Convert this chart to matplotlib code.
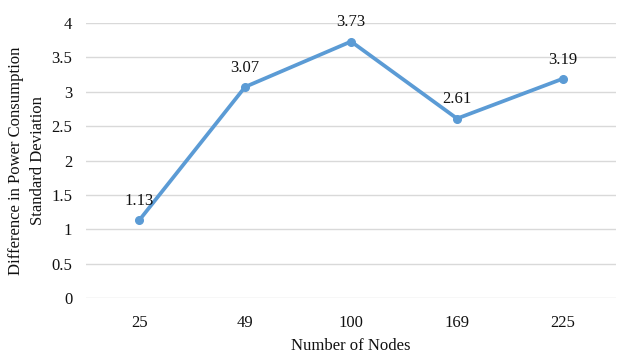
import matplotlib
matplotlib.use("Agg")
import matplotlib.pyplot as plt

# data
nodes = ["25", "49", "100", "169", "225"]
std_diff = [1.13, 3.07, 3.73, 2.61, 3.19]
y_ticks = [0, 0.5, 1, 1.5, 2, 2.5, 3, 3.5, 4]

plt.rcParams['font.family'] = ['Liberation Serif', 'DejaVu Serif']

fig = plt.figure(figsize=(6.43, 3.64), dpi=100)
ax = fig.add_axes([0.134, 0.181, 0.824, 0.756])

x = range(len(nodes))
ax.plot(x, std_diff, color='#5B9BD5', linewidth=2.7, marker='o',
        markersize=5.5, zorder=3)

for xi, v in zip(x, std_diff):
    ax.annotate(f"{v:.2f}", (xi, v), xytext=(0, 8), textcoords='offset points',
                ha='center', va='bottom', fontsize=12, color='#111111')

ax.set_xlim(-0.5, len(nodes) - 0.5)
ax.set_ylim(0, 4)
ax.set_xticks(list(x))
ax.set_xticklabels(nodes)
ax.set_yticks(y_ticks)
ax.set_yticklabels([f"{t:g}" for t in y_ticks])
ax.tick_params(axis='both', length=0, labelsize=12, colors='#111111')
ax.tick_params(axis='x', pad=12)
ax.tick_params(axis='y', pad=10)

ax.grid(axis='y', color='#d9d9d9', linewidth=1)
ax.set_axisbelow(True)
for s in ax.spines.values():
    s.set_visible(False)

ax.set_xlabel("Number of Nodes", fontsize=12, color='#111111', labelpad=5)
ax.set_ylabel("Difference in Power Consumption\nStandard Deviation",
              fontsize=12, color='#111111', labelpad=4, linespacing=1.5)

fig.savefig("out.png", dpi=100)
